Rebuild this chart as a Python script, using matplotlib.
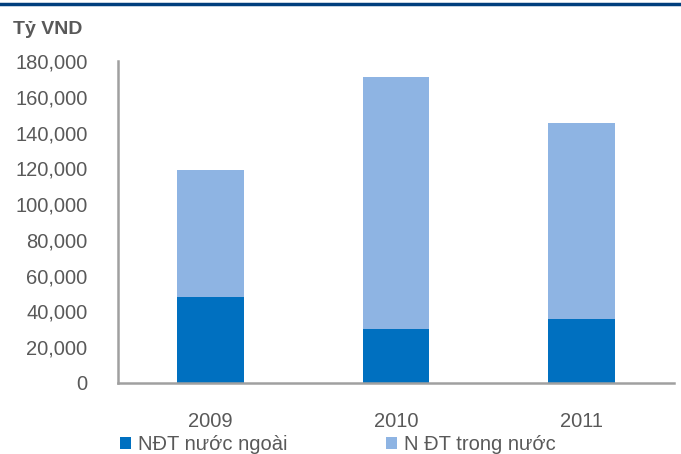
import matplotlib
matplotlib.use("Agg")
import matplotlib.pyplot as plt
from matplotlib.ticker import FuncFormatter
from matplotlib.lines import Line2D

plt.rcParams['font.family'] = ['Liberation Sans', 'DejaVu Sans']

years = ['2009', '2010', '2011']
foreign = [47800, 30200, 35900]
domestic = [71300, 140900, 109500]
series_names = ['NĐT nước ngoài', 'N ĐT trong nước']
yticks = [0, 20000, 40000, 60000, 80000, 100000, 120000, 140000, 160000, 180000]

dark = '#0070C0'
light = '#8EB4E3'
grey = '#595959'

fig = plt.figure(figsize=(6.81, 4.54), dpi=100)
ax = fig.add_axes([118/681, 1-383/454, (674-118)/681, (383-61)/454])

x = list(range(len(years)))
b1 = ax.bar(x, foreign, width=0.36, color=dark, label=series_names[0])
b2 = ax.bar(x, domestic, bottom=foreign, width=0.36, color=light, label=series_names[1])

ax.set_xlim(-0.5, 2.5)
ax.set_ylim(0, 180000)
ax.set_yticks(yticks)
ax.yaxis.set_major_formatter(FuncFormatter(lambda v, p: f'{int(v):,}'))
ax.set_xticks(x)
ax.set_xticklabels(years)
ax.tick_params(axis='both', length=0, labelsize=14.5, colors=grey)
ax.tick_params(axis='y', pad=22)
ax.tick_params(axis='x', pad=21)
for s in ['top', 'right']:
    ax.spines[s].set_visible(False)
for s in ['left', 'bottom']:
    ax.spines[s].set_color('#A0A0A0')
    ax.spines[s].set_linewidth(1.8)

fig.text(13/681, 1-30/454, 'Tỷ VND', fontsize=14, fontweight='bold', color=grey, va='center', ha='left')

fig.add_artist(Line2D([0, 1], [1-3.5/454, 1-3.5/454], color='#003F7D', linewidth=2.5, transform=fig.transFigure))

leg = fig.legend(handles=[b1, b2], labels=series_names, loc='center left',
                 bbox_to_anchor=(120/681, 1-445/454), ncol=2, frameon=False,
                 fontsize=14.5, handlelength=0.55, handleheight=0.55, handletextpad=0.35,
                 columnspacing=4.9, borderpad=0, borderaxespad=0)
for t in leg.get_texts():
    t.set_color(grey)

fig.savefig('out.png', dpi=100)
